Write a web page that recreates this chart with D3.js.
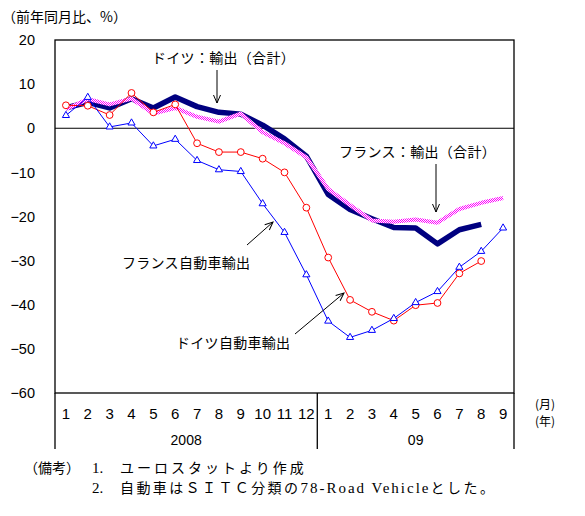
<!DOCTYPE html>
<html>
<head>
<meta charset="utf-8">
<script src="https://cdn.jsdelivr.net/npm/d3@7"></script>
<style>
  body { margin: 0; background: #fff; }
  svg { display: block; }
</style>
</head>
<body>
<svg id="chart" width="585" height="516"></svg>
<script>
// month labels: 2008 Jan-Dec, 2009 Jan-Sep
const monthLabels = ["1","2","3","4","5","6","7","8","9","10","11","12",
                     "1","2","3","4","5","6","7","8","9"];
const yearLabels = ["2008", "09"];
const yearMonths = [12, 9];
const yTicks = [20, 10, 0, -10, -20, -30, -40, -50, -60];

// year-on-year change, %
const deTotal = [4.6, 5.9, 4.6, 6.7, 4.6, 7.1, 4.9, 3.6, 3.2, 0.7, -2.4, -6.3,
                 -15.0, -18.4, -20.5, -22.5, -22.6, -26.2, -23.0, -21.8];
const frTotal = [4.3, 6.6, 5.4, 6.7, 3.3, 4.6, 2.6, 1.5, 3.3, -0.9, -3.4, -6.6,
                 -13.8, -17.4, -20.9, -21.2, -20.7, -21.4, -18.3, -16.9, -15.8];
const deAuto = [5.2, 5.1, 3.0, 8.0, 3.6, 5.4, -3.4, -5.4, -5.4, -6.9, -10.0, -18.0,
                -29.3, -38.9, -41.6, -43.6, -40.1, -39.6, -32.9, -30.1];
const frAuto = [2.9, 7.0, 0.3, 1.2, -4.0, -2.5, -7.3, -9.4, -9.8, -17.1, -23.6, -33.2,
                -43.7, -47.4, -45.8, -43.1, -39.5, -37.0, -31.5, -27.9, -22.6];

const svg = d3.select("#chart");
const plotL = 55, plotR = 514, plotT = 40, plotB = 393, boxB = 449;

const x = d3.scaleBand().domain(d3.range(monthLabels.length)).range([plotL, plotR]);
const cx = i => x(i) + x.bandwidth() / 2;
const y = d3.scaleLinear().domain([-60, 20]).range([plotB, plotT]);

svg.append("rect").attr("width", 585).attr("height", 516).attr("fill", "#fff");

// checker pattern for the france total line
const defs = svg.append("defs");
const pat = defs.append("pattern").attr("id", "hatch")
  .attr("width", 2).attr("height", 2).attr("patternUnits", "userSpaceOnUse");
pat.append("rect").attr("width", 2).attr("height", 2).attr("fill", "#ffffff");
pat.append("rect").attr("width", 1).attr("height", 1).attr("fill", "#ff00ff");
pat.append("rect").attr("x", 1).attr("y", 1).attr("width", 1).attr("height", 1).attr("fill", "#ff00ff");

defs.append("marker").attr("id", "arrow")
  .attr("viewBox", "-10 -6 12 12").attr("refX", 0).attr("refY", 0)
  .attr("markerWidth", 12).attr("markerHeight", 12)
  .attr("markerUnits", "userSpaceOnUse").attr("orient", "auto")
  .append("path").attr("d", "M-8,-3.5L0,0L-8,3.5")
  .attr("fill", "none").attr("stroke", "#000").attr("stroke-width", 1);

// frame
svg.append("rect").attr("x", plotL).attr("y", plotT)
  .attr("width", plotR - plotL).attr("height", plotB - plotT)
  .attr("fill", "none").attr("stroke", "#000").attr("stroke-width", 1.3);
svg.append("line").attr("x1", plotL).attr("x2", plotR)
  .attr("y1", y(0)).attr("y2", y(0)).attr("stroke", "#000");

// category box below the plot
let acc = 0;
const seps = [0];
yearMonths.forEach(n => { acc += n; seps.push(acc); });
const sepX = d => d < monthLabels.length ? x(d) : plotR;
svg.append("g").selectAll("line").data(seps).join("line")
  .attr("x1", sepX).attr("x2", sepX)
  .attr("y1", plotB).attr("y2", boxB)
  .attr("stroke", "#000").attr("stroke-width", 1.3);

// y axis
const yAxis = svg.append("g").attr("transform", `translate(${plotL},0)`)
  .call(d3.axisLeft(y).tickValues(yTicks).tickSize(0).tickPadding(20)
    .tickFormat(d => d < 0 ? "\u2212" + Math.abs(d) : d));
yAxis.select(".domain").remove();
yAxis.selectAll("text").attr("font-family", "Liberation Sans, Arial, sans-serif")
  .attr("font-size", 14.5).attr("fill", "#000");

// x axis months
const xAxis = svg.append("g").attr("transform", `translate(0,${plotB})`)
  .call(d3.axisBottom(x).tickSize(0).tickPadding(15).tickFormat(i => monthLabels[i]));
xAxis.select(".domain").remove();
xAxis.selectAll("text").attr("font-family", "Liberation Sans Narrow, Liberation Sans, Arial, sans-serif")
  .attr("font-size", 15).attr("fill", "#000");

// year labels
svg.append("g").selectAll("text").data(yearLabels).join("text")
  .attr("x", (d, i) => (sepX(seps[i]) + sepX(seps[i + 1])) / 2)
  .attr("y", 445).attr("text-anchor", "middle")
  .attr("font-family", "Liberation Sans, Arial, sans-serif").attr("font-size", 14)
  .text(d => d);

const jp = "'Noto Sans CJK JP', sans-serif";
const unit = svg.append("text").attr("text-anchor", "middle")
  .attr("font-family", jp).attr("font-size", 12);
unit.append("tspan").attr("x", 545).attr("y", 409).text("(月)");
unit.append("tspan").attr("x", 545).attr("y", 426).text("(年)");

svg.append("text").attr("x", 2).attr("y", 22)
  .attr("font-family", jp).attr("font-size", 14).text("（前年同月比、%）");

// series
const line = d3.line().x((d, i) => cx(i)).y(d => y(d));

svg.append("path").datum(deTotal).attr("d", line)
  .attr("fill", "none").attr("stroke", "#000080").attr("stroke-width", 5.5)
  .attr("stroke-linejoin", "round");
svg.append("path").datum(frTotal).attr("d", line)
  .attr("fill", "none").attr("stroke", "url(#hatch)").attr("stroke-width", 4)
  .attr("stroke-linejoin", "round");

svg.append("path").datum(deAuto).attr("d", line)
  .attr("fill", "none").attr("stroke", "#ff0000").attr("stroke-width", 1);
svg.append("g").selectAll("circle").data(deAuto).join("circle")
  .attr("cx", (d, i) => cx(i)).attr("cy", d => y(d)).attr("r", 3.4)
  .attr("fill", "#fff").attr("stroke", "#ff0000").attr("stroke-width", 1);

svg.append("path").datum(frAuto).attr("d", line)
  .attr("fill", "none").attr("stroke", "#0000ff").attr("stroke-width", 1);
const tri = d3.symbol().type(d3.symbolTriangle).size(22);
svg.append("g").selectAll("path").data(frAuto).join("path")
  .attr("transform", (d, i) => `translate(${cx(i)},${y(d)})`)
  .attr("d", tri).attr("fill", "#fff").attr("stroke", "#0000ff").attr("stroke-width", 1);

// annotations
const notes = [
  { t: "ドイツ：輸出（合計）", x: 152, y: 63 },
  { t: "フランス：輸出（合計）", x: 339, y: 157 },
  { t: "フランス自動車輸出", x: 122, y: 268 },
  { t: "ドイツ自動車輸出", x: 176, y: 348 }
];
svg.append("g").selectAll("text").data(notes).join("text")
  .attr("x", d => d.x).attr("y", d => d.y)
  .attr("font-family", jp).attr("font-size", 14).attr("letter-spacing", 0.3)
  .text(d => d.t);

const arrows = [
  [217, 70, 217, 103],
  [436, 164, 436, 212],
  [247, 245, 273, 222],
  [295, 334, 344, 293]
];
svg.append("g").selectAll("line").data(arrows).join("line")
  .attr("x1", d => d[0]).attr("y1", d => d[1])
  .attr("x2", d => d[2]).attr("y2", d => d[3])
  .attr("stroke", "#000").attr("stroke-width", 1)
  .attr("marker-end", "url(#arrow)");

// footnotes
const serif = "Liberation Serif, Times New Roman, serif";
const f1 = svg.append("text").attr("y", 473).attr("font-size", 14).attr("font-family", jp);
f1.append("tspan").attr("x", 24).text("（備考）");
f1.append("tspan").attr("x", 92).attr("font-family", serif).attr("font-size", 15).text("1.");
f1.append("tspan").attr("x", 120).attr("letter-spacing", 3).text("ユーロスタットより作成");

const f2 = svg.append("text").attr("y", 493).attr("font-size", 14).attr("font-family", jp);
f2.append("tspan").attr("x", 92).attr("font-family", serif).attr("font-size", 15).text("2.");
f2.append("tspan").attr("x", 120).attr("letter-spacing", 2.4).text("自動車はＳＩＴＣ分類の");
f2.append("tspan").attr("font-family", serif).attr("font-size", 15).attr("letter-spacing", 2).text("78-Road Vehicle");
f2.append("tspan").attr("letter-spacing", 2.5).text("とした。");
</script>
</body>
</html>
